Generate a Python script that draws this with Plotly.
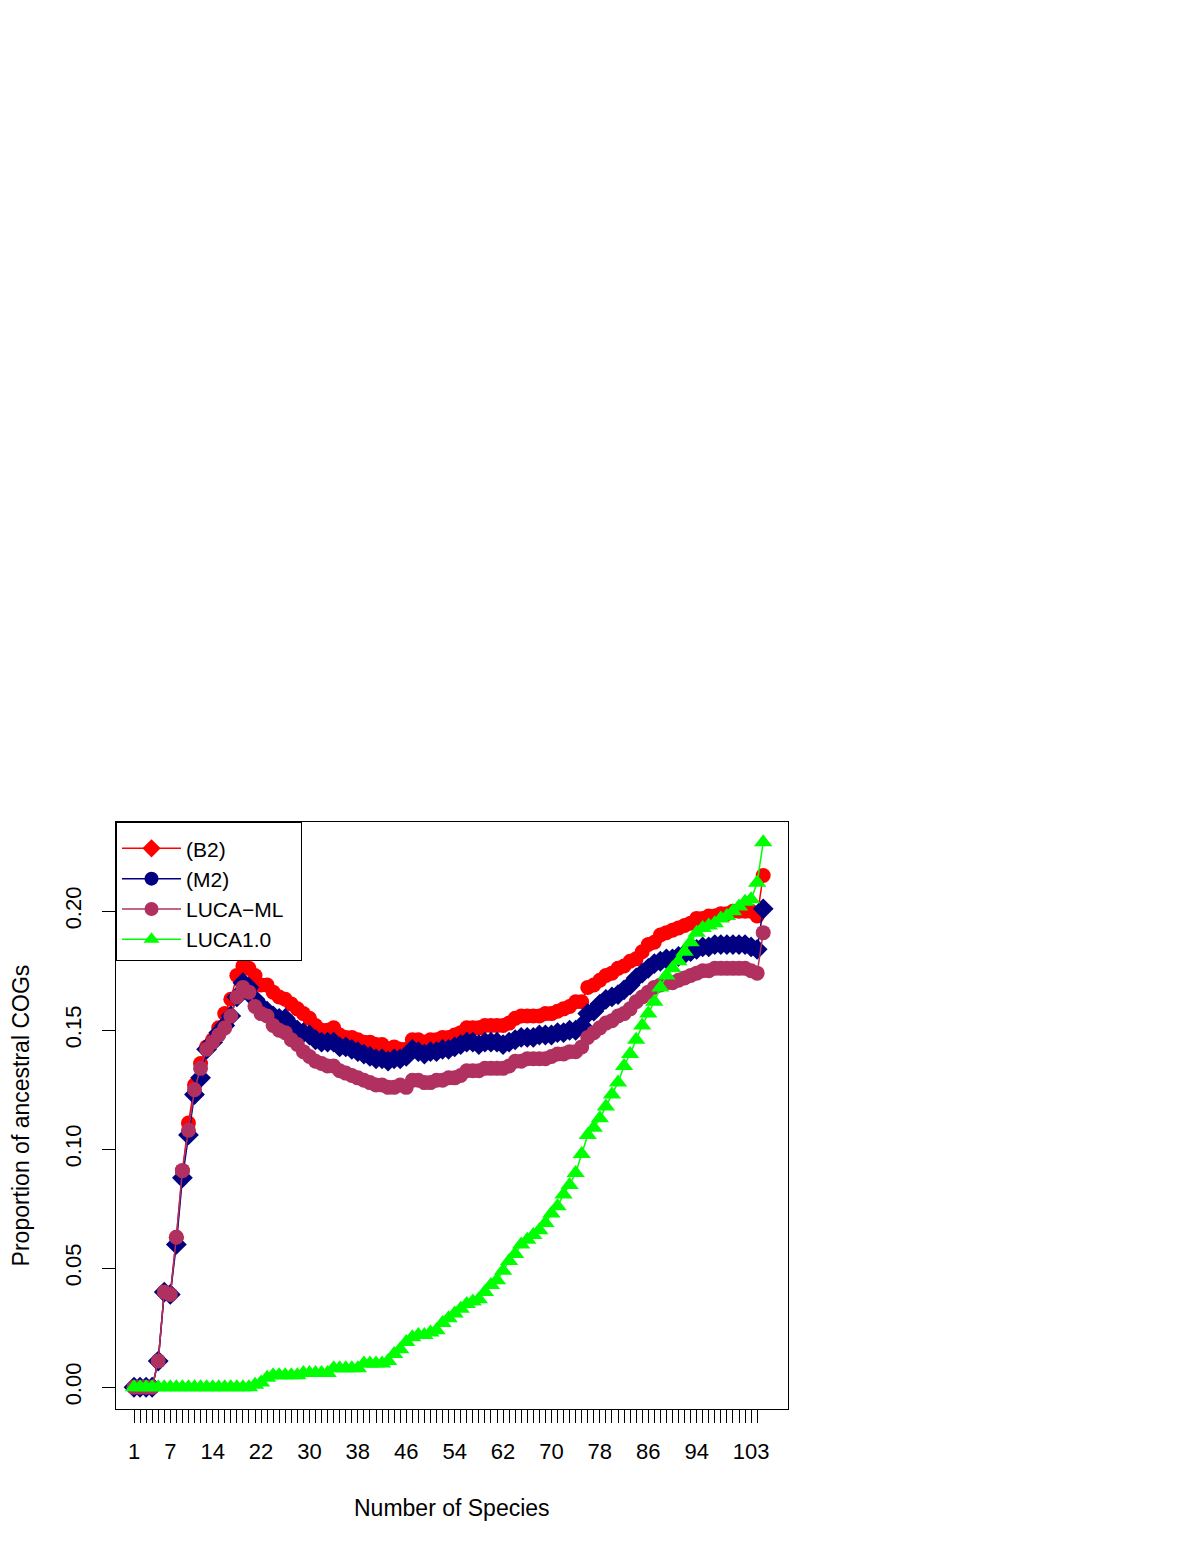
import plotly.graph_objects as go

# x positions: number of species (1..105)
species = list(range(1, 106))

b2 = [0, 0, 0, 0, 0.011, 0.040, 0.039, 0.063, 0.091, 0.111,
      0.127, 0.136, 0.143, 0.146, 0.151, 0.157, 0.163, 0.173, 0.177, 0.176,
      0.173, 0.169, 0.169, 0.166, 0.164, 0.163, 0.161, 0.159, 0.157, 0.155,
      0.152, 0.150, 0.150, 0.151, 0.148, 0.147, 0.147, 0.146, 0.145, 0.145,
      0.144, 0.144, 0.142, 0.143, 0.142, 0.142, 0.146, 0.146, 0.145, 0.146,
      0.146, 0.147, 0.147, 0.148, 0.149, 0.151, 0.151, 0.151, 0.152, 0.152,
      0.152, 0.152, 0.153, 0.155, 0.156, 0.156, 0.156, 0.156, 0.157, 0.157,
      0.158, 0.159, 0.160, 0.162, 0.162, 0.168, 0.169, 0.171, 0.173, 0.174,
      0.176, 0.177, 0.179, 0.180, 0.183, 0.186, 0.187, 0.190, 0.191, 0.192,
      0.193, 0.194, 0.195, 0.197, 0.197, 0.198, 0.198, 0.199, 0.199, 0.200,
      0.200, 0.200, 0.200, 0.198, 0.215]

m2 = [0, 0, 0, 0, 0.011, 0.040, 0.039, 0.060, 0.088, 0.106,
      0.123, 0.130, 0.142, 0.145, 0.149, 0.152, 0.156, 0.164, 0.170, 0.168,
      0.163, 0.160, 0.158, 0.156, 0.155, 0.155, 0.152, 0.150, 0.149, 0.148,
      0.146, 0.145, 0.145, 0.145, 0.143, 0.143, 0.142, 0.141, 0.140, 0.139,
      0.138, 0.138, 0.137, 0.138, 0.138, 0.139, 0.142, 0.141, 0.140, 0.141,
      0.141, 0.142, 0.142, 0.143, 0.144, 0.145, 0.145, 0.144, 0.145, 0.145,
      0.145, 0.144, 0.145, 0.146, 0.147, 0.147, 0.147, 0.148, 0.148, 0.148,
      0.149, 0.149, 0.150, 0.150, 0.152, 0.157, 0.158, 0.161, 0.163, 0.164,
      0.165, 0.167, 0.169, 0.172, 0.174, 0.176, 0.178, 0.179, 0.180, 0.180,
      0.181, 0.182, 0.183, 0.184, 0.185, 0.185, 0.186, 0.186, 0.186, 0.186,
      0.186, 0.186, 0.185, 0.184, 0.201]

luca_ml = [0, 0, 0, 0, 0.011, 0.040, 0.039, 0.063, 0.091, 0.108,
           0.125, 0.134, 0.142, 0.145, 0.148, 0.151, 0.156, 0.164, 0.168, 0.166,
           0.160, 0.157, 0.156, 0.152, 0.150, 0.149, 0.146, 0.144, 0.141, 0.139,
           0.137, 0.136, 0.135, 0.135, 0.133, 0.132, 0.131, 0.130, 0.129, 0.128,
           0.127, 0.127, 0.126, 0.126, 0.127, 0.126, 0.129, 0.129, 0.128, 0.128,
           0.129, 0.129, 0.130, 0.130, 0.131, 0.133, 0.133, 0.133, 0.134, 0.134,
           0.134, 0.134, 0.135, 0.137, 0.137, 0.138, 0.138, 0.138, 0.138, 0.139,
           0.140, 0.140, 0.141, 0.141, 0.143, 0.147, 0.149, 0.151, 0.153, 0.154,
           0.156, 0.157, 0.159, 0.162, 0.164, 0.166, 0.168, 0.169, 0.170, 0.170,
           0.171, 0.172, 0.173, 0.174, 0.175, 0.175, 0.176, 0.176, 0.176, 0.176,
           0.176, 0.176, 0.175, 0.174, 0.191]

luca10 = [0, 0, 0, 0, 0, 0, 0, 0, 0, 0,
          0, 0, 0, 0, 0, 0, 0, 0, 0, 0,
          0.001, 0.002, 0.004, 0.005, 0.005, 0.005, 0.005, 0.005, 0.006, 0.006,
          0.006, 0.006, 0.006, 0.008, 0.008, 0.008, 0.008, 0.008, 0.010, 0.010,
          0.010, 0.010, 0.011, 0.014, 0.016, 0.019, 0.021, 0.022, 0.022, 0.023,
          0.024, 0.027, 0.029, 0.031, 0.033, 0.035, 0.036, 0.037, 0.040, 0.043,
          0.045, 0.049, 0.053, 0.056, 0.060, 0.062, 0.064, 0.066, 0.069, 0.073,
          0.076, 0.081, 0.085, 0.090, 0.098, 0.106, 0.109, 0.113, 0.118, 0.123,
          0.128, 0.135, 0.140, 0.146, 0.152, 0.157, 0.162, 0.168, 0.173, 0.176,
          0.179, 0.183, 0.187, 0.191, 0.193, 0.194, 0.195, 0.197, 0.198, 0.200,
          0.202, 0.204, 0.205, 0.212, 0.229]

tick_species = list(range(1, 105))
shown_labels = [1, 7, 14, 22, 30, 38, 46, 54, 62, 70, 78, 86, 94, 103]
y_ticks = [0.00, 0.05, 0.10, 0.15, 0.20]

RED = "#FF0000"
NAVY = "#000080"
MAROON = "#B03060"
GREEN = "#00FF00"
FONT = "Liberation Sans, Arial, sans-serif"

fig = go.Figure()

# data traces (plot symbols as drawn in the panel)
series = [
    (b2, RED, "circle", 15),
    (m2, NAVY, "diamond", 16),
    (luca_ml, MAROON, "circle", 15),
    (luca10, GREEN, "triangle-up", 16),
]
for vals, col, sym, sz in series:
    fig.add_trace(go.Scatter(
        x=species, y=vals, mode="lines+markers",
        line=dict(color=col, width=1.5),
        marker=dict(color=col, symbol=sym, size=sz, line=dict(width=0)),
        showlegend=False, hoverinfo="x+y",
    ))

# legend entries (symbols as shown in the legend box)
legend_items = [
    ("(B2)", RED, "diamond"),
    ("(M2)", NAVY, "circle"),
    ("LUCA\u2212ML", MAROON, "circle"),
    ("LUCA1.0", GREEN, "triangle-up"),
]
for name, col, sym in legend_items:
    fig.add_trace(go.Scatter(
        x=[None], y=[None], mode="lines+markers", name=name + "\u00a0\u00a0",
        line=dict(color=col, width=1.5),
        marker=dict(color=col, symbol=sym, size=14),
    ))

fig.update_layout(
    width=1200, height=1553,
    margin=dict(l=108, r=420, t=814, b=152),
    paper_bgcolor="white", plot_bgcolor="white",
    font=dict(family=FONT, size=23, color="black"),
    xaxis=dict(
        range=[-1.975, 109.1],
        tickvals=tick_species,
        ticktext=[str(s) if s in shown_labels else "" for s in tick_species],
        ticks="outside", ticklen=13, tickwidth=1, tickcolor="black",
        ticklabelstandoff=10,
        showgrid=False, zeroline=False,
        showline=True, linecolor="black", linewidth=1, mirror=True,
        tickfont=dict(size=22),
    ),
    yaxis=dict(
        range=[-0.00914, 0.2375],
        tickvals=y_ticks,
        ticktext=[f"{v:.2f}" for v in y_ticks],
        tickangle=-90,
        ticks="outside", ticklen=13, tickwidth=1, tickcolor="black",
        ticklabelstandoff=12,
        showgrid=False, zeroline=False,
        showline=True, linecolor="black", linewidth=1, mirror=True,
        tickfont=dict(size=22),
    ),
    legend=dict(
        x=0, y=1, xanchor="left", yanchor="top",
        bgcolor="white", bordercolor="black", borderwidth=1,
        font=dict(size=21), tracegroupgap=0, itemwidth=59,
        title=dict(text="\u00a0", font=dict(size=4)),
    ),
    annotations=[
        dict(text="Number of Species", xref="paper", yref="paper",
             x=0.5, y=-0.169, xanchor="center", yanchor="middle",
             showarrow=False, font=dict(size=23)),
        dict(text="Proportion of ancestral COGs", xref="paper", yref="paper",
             x=-0.1415, y=0.5, xanchor="center", yanchor="middle",
             textangle=-90, showarrow=False, font=dict(size=23)),
    ],
)

fig.write_html("out.html")
